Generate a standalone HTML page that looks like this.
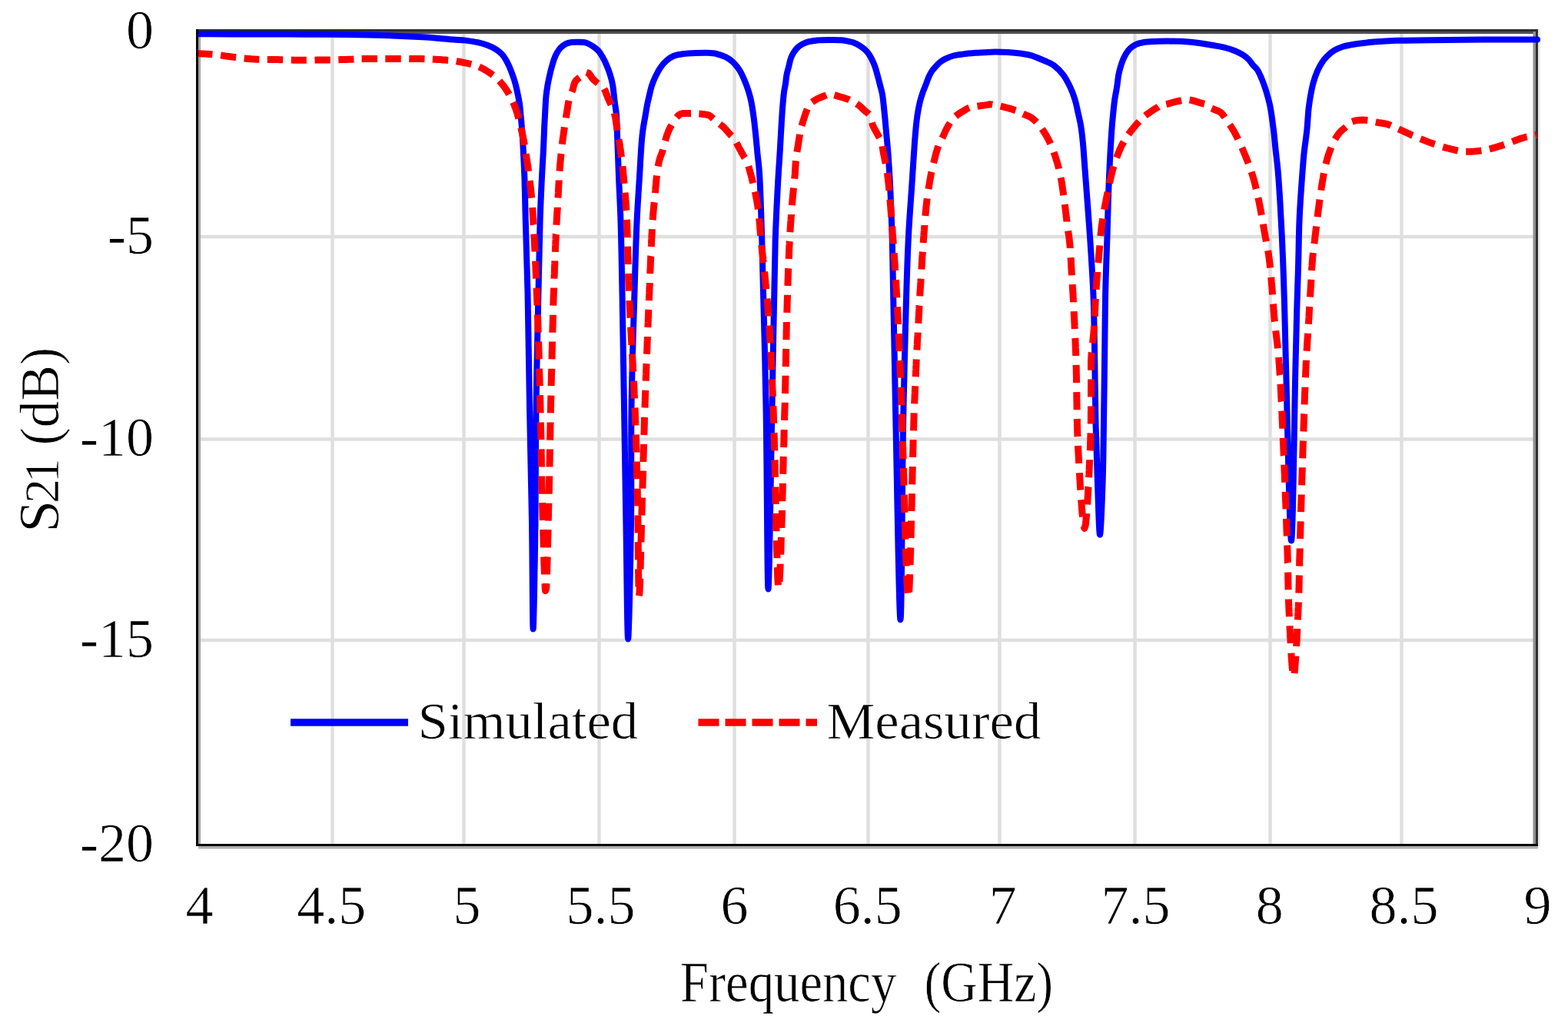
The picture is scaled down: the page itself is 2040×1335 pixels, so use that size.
<!DOCTYPE html>
<html><head><meta charset="utf-8"><title>S21 vs Frequency</title>
<style>
html,body{margin:0;padding:0;background:#fff;}
body{width:2040px;height:1335px;overflow:hidden;}
svg{display:block;filter:blur(0.7px);}
text{font-family:"Liberation Serif","Times New Roman",serif;fill:#000;stroke:#fff;stroke-width:0.7px;}
.g{stroke:#dfdfdf;stroke-width:4.5;}
</style></head><body>
<svg width="2040" height="1335" viewBox="0 0 2040 1335">
<rect x="0" y="0" width="2040" height="1335" fill="#fff"/>
<g><line x1="432.5" y1="40" x2="432.5" y2="1099" class="g"/><line x1="603.5" y1="40" x2="603.5" y2="1099" class="g"/><line x1="779.5" y1="40" x2="779.5" y2="1099" class="g"/><line x1="955.5" y1="40" x2="955.5" y2="1099" class="g"/><line x1="1129.5" y1="40" x2="1129.5" y2="1099" class="g"/><line x1="1300.5" y1="40" x2="1300.5" y2="1099" class="g"/><line x1="1476.5" y1="40" x2="1476.5" y2="1099" class="g"/><line x1="1652.5" y1="40" x2="1652.5" y2="1099" class="g"/><line x1="1823.5" y1="40" x2="1823.5" y2="1099" class="g"/><line x1="257" y1="308.0" x2="1999" y2="308.0" class="g"/><line x1="257" y1="571.5" x2="1999" y2="571.5" class="g"/><line x1="257" y1="833.0" x2="1999" y2="833.0" class="g"/></g>
<!-- plot border (top/right, under series) -->
<rect x="258" y="41" width="1740" height="3" fill="#505050"/>
<rect x="1994.5" y="41" width="3.5" height="1057" fill="#909090"/>
<rect x="255" y="38" width="1746" height="3" fill="#2d2d2d"/>
<rect x="1998" y="38" width="3" height="1063" fill="#303030"/>
<rect x="2001" y="38" width="3" height="1063" fill="#ececec"/>
<rect x="258" y="41" width="3" height="1057" fill="#a6a6a6"/>
<rect x="258" y="1101" width="1743" height="3.5" fill="#b0b0b0"/>
<defs><clipPath id="pc"><rect x="255" y="0" width="1749" height="1335"/></clipPath></defs>
<!-- curves -->
<g clip-path="url(#pc)">
<path d="M256.0,44.3 C270.7,44.3 284.9,44.4 300.0,44.4 C316.1,44.4 333.3,44.5 350.0,44.5 C366.7,44.6 383.3,44.6 400.0,44.7 C416.7,44.8 433.3,44.9 450.0,45.1 C466.7,45.3 483.3,45.5 500.0,46.0 C516.7,46.5 534.3,47.3 550.0,48.3 C564.1,49.2 579.7,50.7 590.0,51.5 C596.4,52.0 600.5,52.0 605.7,52.6 C611.0,53.2 616.5,54.1 621.5,55.2 C626.1,56.2 630.5,57.3 634.6,58.9 C638.4,60.3 642.0,62.1 645.1,64.1 C648.0,66.0 650.7,68.0 652.9,70.4 C655.0,72.6 656.6,75.2 658.2,77.8 C659.8,80.4 661.1,83.2 662.4,86.1 C663.7,89.0 664.9,92.2 666.0,95.1 C667.0,97.8 667.9,100.4 668.7,102.9 C669.5,105.3 670.1,107.3 670.8,110.0 C671.7,113.5 672.7,118.0 673.5,122.0 C674.4,126.1 675.2,129.8 675.9,134.3 C676.7,139.9 677.2,146.5 677.8,153.0 C678.4,160.0 679.1,167.4 679.6,175.0 C680.2,183.1 680.6,191.4 681.0,200.0 C681.5,209.2 681.9,217.4 682.3,228.6 C682.9,244.7 683.2,265.7 683.8,287.5 C684.5,314.9 685.7,345.5 686.5,380.0 C687.5,424.0 688.1,480.0 689.0,530.0 C689.9,580.0 691.2,631.0 692.0,680.0 C692.7,727.1 692.9,818.5 693.6,818.5 C694.4,818.5 695.9,727.1 696.5,680.0 C697.2,631.0 696.8,580.0 697.5,530.0 C698.2,480.0 699.6,424.0 700.5,380.0 C701.2,345.5 701.7,314.9 702.6,287.5 C703.3,265.7 704.2,246.2 705.1,228.6 C705.8,214.4 706.7,201.5 707.2,190.0 C707.6,180.8 707.9,172.3 708.2,165.0 C708.5,159.4 708.7,155.6 709.0,150.0 C709.4,142.7 709.8,132.3 710.5,125.0 C711.1,119.4 711.8,114.7 712.6,110.0 C713.4,105.7 714.3,101.6 715.2,97.7 C716.0,94.1 716.8,90.7 717.8,87.2 C718.8,83.7 719.8,79.9 721.0,76.7 C722.1,73.8 723.2,71.3 724.6,68.8 C726.0,66.4 727.5,63.9 729.4,62.0 C731.2,60.1 733.5,58.4 735.7,57.3 C737.7,56.2 739.6,55.6 742.0,55.2 C745.0,54.6 748.9,54.6 752.4,54.7 C755.9,54.8 759.7,54.7 762.9,55.7 C765.8,56.6 768.2,58.2 770.8,59.9 C773.5,61.7 776.5,63.8 778.7,66.2 C780.8,68.5 782.2,71.2 783.9,74.1 C785.7,77.3 787.5,80.9 789.1,84.6 C790.9,88.7 792.6,93.4 793.9,97.7 C795.2,101.8 796.1,105.2 797.0,110.0 C798.2,116.5 798.9,126.3 799.8,133.1 C800.5,138.6 801.3,142.1 801.8,147.8 C802.5,155.5 802.6,164.4 803.0,175.0 C803.6,190.1 804.3,211.5 805.0,230.0 C805.8,249.0 806.8,266.1 807.5,287.5 C808.4,314.7 808.8,345.5 809.5,380.0 C810.3,424.0 811.2,480.0 812.0,530.0 C812.8,580.0 813.6,629.9 814.4,680.0 C815.3,730.4 816.0,831.5 817.1,831.5 C818.2,831.5 820.3,730.4 821.0,680.0 C821.7,629.9 820.8,580.0 821.5,530.0 C822.2,480.0 824.2,424.0 825.5,380.0 C826.5,345.5 827.3,314.7 828.6,287.5 C829.6,266.1 830.8,249.0 832.0,230.0 C833.2,211.5 834.0,189.7 835.7,175.0 C836.8,165.0 838.5,157.1 839.7,150.0 C840.6,144.7 841.2,140.5 842.1,136.0 C842.9,131.8 843.9,128.0 844.8,124.0 C845.8,120.0 846.5,116.0 847.8,112.0 C849.1,108.0 850.7,103.9 852.6,100.0 C854.5,95.9 856.7,91.6 859.2,88.0 C861.5,84.6 864.1,81.5 867.0,79.0 C869.7,76.6 872.6,74.4 876.0,73.0 C879.6,71.5 883.6,71.0 888.0,70.3 C893.1,69.5 899.5,69.2 905.0,69.0 C910.2,68.8 915.3,68.6 920.0,68.8 C924.2,69.0 928.1,69.1 932.0,70.0 C936.1,70.9 940.4,72.4 944.0,74.2 C947.3,75.9 950.4,78.0 953.0,80.2 C955.3,82.2 957.1,84.5 958.9,86.8 C960.7,89.1 962.2,91.3 963.7,93.9 C965.3,96.7 966.6,99.9 967.9,102.9 C969.2,105.9 970.4,108.9 971.5,111.9 C972.6,114.9 973.6,117.7 974.5,120.9 C975.6,124.6 976.6,128.4 977.5,132.9 C978.6,138.5 979.6,145.3 980.5,152.0 C981.5,159.3 982.3,167.2 983.1,175.0 C984.0,183.2 984.7,191.7 985.5,200.0 C986.3,208.3 987.3,214.1 988.0,225.0 C989.4,245.4 990.2,277.2 991.3,313.0 C993.0,369.3 995.1,456.1 996.5,530.0 C997.9,607.1 998.2,766.5 999.5,766.5 C1000.8,766.5 1002.9,607.1 1004.5,530.0 C1006.0,456.1 1007.0,366.1 1008.7,313.0 C1009.7,282.2 1010.9,260.7 1012.0,240.0 C1012.8,224.7 1013.7,212.9 1014.5,200.0 C1015.2,187.9 1015.8,176.2 1016.5,165.0 C1017.1,154.6 1017.8,143.6 1018.5,135.0 C1019.1,128.5 1019.6,122.6 1020.3,118.0 C1020.8,114.8 1021.3,113.0 1021.8,110.0 C1022.4,106.3 1022.7,101.6 1023.4,97.7 C1024.1,94.0 1025.1,90.7 1026.0,87.2 C1026.9,83.7 1027.5,79.9 1028.6,76.7 C1029.6,73.8 1030.8,71.3 1032.3,68.8 C1033.8,66.4 1035.5,63.9 1037.5,62.0 C1039.5,60.1 1041.9,58.6 1044.3,57.3 C1046.8,56.0 1049.3,55.0 1052.2,54.2 C1055.4,53.3 1058.8,53.0 1062.7,52.6 C1067.4,52.2 1073.2,52.1 1078.4,52.1 C1083.6,52.1 1090.0,52.0 1094.1,52.3 C1096.8,52.5 1098.3,52.7 1100.7,53.1 C1103.8,53.7 1108.0,54.5 1111.2,55.7 C1114.1,56.8 1116.6,58.3 1119.1,59.9 C1121.5,61.5 1123.9,63.2 1125.9,65.2 C1127.9,67.1 1129.6,69.2 1131.1,71.5 C1132.7,73.9 1134.1,76.7 1135.3,79.3 C1136.5,81.9 1137.5,84.4 1138.5,87.2 C1139.6,90.4 1140.6,94.1 1141.6,97.7 C1142.7,101.6 1143.8,105.9 1144.8,110.0 C1145.8,114.0 1146.9,117.3 1147.8,122.0 C1149.0,128.4 1149.6,136.9 1150.5,145.0 C1151.5,154.1 1152.3,164.6 1153.2,174.0 C1154.0,182.9 1154.8,190.4 1155.5,200.0 C1156.4,211.9 1157.2,224.7 1158.0,240.0 C1159.0,260.7 1159.9,282.2 1160.8,313.0 C1162.3,366.1 1163.4,453.3 1165.0,530.0 C1166.9,616.6 1169.7,806.5 1171.5,806.5 C1173.2,806.5 1173.6,616.6 1175.5,530.0 C1177.2,453.3 1179.2,366.1 1181.7,313.0 C1183.1,282.2 1185.1,260.7 1186.4,240.0 C1187.4,224.7 1188.2,211.9 1189.0,200.0 C1189.7,190.4 1190.1,182.5 1190.9,174.0 C1191.6,165.8 1192.4,157.4 1193.5,150.0 C1194.5,143.5 1195.6,137.5 1197.0,132.0 C1198.2,127.3 1199.6,122.9 1201.0,119.0 C1202.2,115.7 1203.4,113.1 1204.6,110.0 C1205.8,106.8 1206.9,103.3 1208.3,100.3 C1209.6,97.5 1210.9,94.8 1212.5,92.4 C1214.1,90.1 1216.0,88.1 1217.8,86.1 C1219.5,84.2 1221.1,82.4 1223.0,80.9 C1225.0,79.3 1227.2,78.0 1229.8,76.7 C1232.9,75.2 1236.5,73.5 1240.3,72.5 C1244.4,71.4 1248.8,71.0 1253.4,70.4 C1258.4,69.7 1264.3,69.2 1269.1,68.8 C1273.1,68.5 1276.1,68.5 1280.0,68.3 C1284.6,68.1 1289.9,67.6 1295.0,67.6 C1300.2,67.6 1305.3,67.7 1311.0,68.1 C1317.5,68.5 1326.2,69.3 1332.0,70.2 C1336.1,70.8 1339.0,71.3 1342.4,72.3 C1345.9,73.4 1349.4,75.1 1352.9,76.5 C1356.4,78.0 1360.2,79.4 1363.4,81.0 C1366.3,82.4 1368.8,83.4 1371.6,85.5 C1375.3,88.3 1379.8,92.9 1383.0,97.0 C1385.9,100.8 1388.1,104.9 1390.2,109.0 C1392.3,112.9 1394.0,117.0 1395.6,121.0 C1397.1,125.0 1398.4,129.0 1399.5,133.0 C1400.6,137.0 1401.3,141.0 1402.2,145.0 C1403.1,149.0 1404.2,153.4 1404.9,157.0 C1405.5,159.9 1405.9,161.7 1406.4,165.0 C1407.2,170.2 1408.1,177.4 1408.8,185.0 C1409.8,195.0 1410.4,205.7 1411.5,220.0 C1413.2,242.6 1416.1,279.9 1418.0,307.7 C1419.7,333.0 1421.3,356.1 1422.3,380.0 C1423.3,403.5 1423.5,424.6 1424.0,450.0 C1424.6,480.4 1424.8,518.5 1425.5,550.0 C1426.2,578.2 1427.0,604.6 1428.0,630.0 C1428.9,653.0 1429.9,695.8 1431.0,695.8 C1432.1,695.8 1433.7,653.0 1434.5,630.0 C1435.4,604.6 1435.6,578.2 1436.0,550.0 C1436.5,518.5 1436.9,480.4 1437.3,450.0 C1437.6,424.6 1437.7,403.5 1438.2,380.0 C1438.7,356.1 1439.7,332.2 1440.5,307.7 C1441.3,282.3 1441.9,254.2 1443.0,230.0 C1443.9,208.7 1445.2,185.7 1446.3,170.0 C1447.0,159.9 1447.7,152.5 1448.5,145.0 C1449.1,138.8 1449.7,133.0 1450.5,128.0 C1451.1,123.9 1451.9,120.3 1452.5,117.0 C1452.9,114.4 1453.2,112.7 1453.6,110.0 C1454.1,106.5 1454.5,101.6 1455.2,97.7 C1455.9,94.0 1456.8,90.7 1457.8,87.2 C1458.9,83.7 1460.1,79.9 1461.5,76.7 C1462.8,73.8 1464.1,71.2 1465.7,68.8 C1467.2,66.5 1468.9,64.3 1470.9,62.5 C1472.9,60.7 1475.2,59.0 1477.8,57.8 C1480.6,56.5 1483.6,55.8 1487.2,55.2 C1491.7,54.4 1497.7,54.2 1502.9,53.9 C1508.2,53.6 1513.0,53.6 1518.7,53.6 C1525.3,53.6 1533.0,53.6 1540.0,54.0 C1546.8,54.4 1553.3,55.1 1560.0,56.0 C1566.7,56.9 1573.7,58.1 1580.0,59.3 C1585.6,60.3 1591.0,61.2 1595.7,62.5 C1599.6,63.5 1602.7,64.6 1606.2,66.0 C1609.8,67.5 1613.5,69.2 1616.7,71.2 C1619.6,73.1 1622.4,75.2 1624.6,77.5 C1626.7,79.6 1628.0,82.1 1629.8,84.3 C1631.6,86.5 1633.8,88.0 1635.6,90.5 C1637.8,93.6 1639.6,98.1 1641.3,102.0 C1643.0,105.9 1644.4,110.0 1645.8,114.0 C1647.1,118.0 1648.3,122.0 1649.4,126.0 C1650.5,130.0 1651.6,134.0 1652.4,138.0 C1653.2,142.0 1653.8,146.0 1654.4,150.0 C1655.0,154.0 1655.5,158.2 1656.0,162.0 C1656.5,165.5 1656.8,168.0 1657.3,172.0 C1658.0,178.1 1658.8,187.2 1659.6,195.0 C1660.5,203.2 1661.5,210.3 1662.4,220.0 C1663.6,233.4 1664.7,250.7 1665.7,268.0 C1666.9,288.5 1668.1,313.3 1669.0,335.0 C1669.8,355.5 1670.4,373.6 1671.0,395.0 C1671.7,419.8 1672.1,441.5 1673.0,475.0 C1674.6,531.6 1677.9,703.6 1680.0,703.6 C1682.1,703.6 1684.1,531.6 1685.5,475.0 C1686.3,441.5 1686.8,419.2 1687.5,395.0 C1688.1,375.0 1688.7,358.3 1689.2,340.0 C1689.7,321.7 1689.8,302.9 1690.6,285.0 C1691.3,267.9 1692.6,250.2 1693.7,235.0 C1694.6,222.3 1695.4,211.3 1696.5,200.0 C1697.6,189.4 1699.3,179.5 1700.3,169.4 C1701.3,159.5 1701.7,148.5 1702.7,140.0 C1703.5,133.4 1704.4,128.0 1705.4,122.4 C1706.4,117.2 1707.3,112.4 1708.7,107.4 C1710.1,102.4 1712.0,97.0 1714.0,92.4 C1715.8,88.3 1717.8,84.5 1720.0,81.2 C1721.9,78.4 1723.7,76.1 1726.0,73.7 C1728.6,71.1 1731.7,68.3 1735.0,66.2 C1738.4,64.0 1742.4,62.3 1746.2,61.0 C1749.9,59.7 1753.5,59.1 1757.4,58.4 C1761.5,57.6 1765.4,57.1 1770.0,56.5 C1775.3,55.8 1780.9,55.2 1787.5,54.6 C1796.0,53.9 1806.2,53.2 1816.9,52.8 C1829.9,52.3 1843.9,52.5 1860.0,52.3 C1880.5,52.1 1906.7,51.6 1930.0,51.5 C1953.3,51.4 1976.7,51.5 2000.0,51.5" fill="none" stroke="#0000ff" stroke-width="8" stroke-linejoin="round" stroke-linecap="round"/>
<path d="M256.0,69.5L259.4,69.7L262.8,69.9L266.3,70.1L269.7,70.2L273.1,70.4L276.4,70.7M287.1,71.9L290.2,72.4L293.4,72.9L296.4,73.3L299.7,73.7L302.8,74.1L306.1,74.5L307.1,74.6M317.6,75.9L320.7,76.2L323.7,76.5L327.1,76.8L330.5,77.0L333.9,77.2L337.3,77.3M347.8,77.4L351.2,77.4L354.5,77.4L358.0,77.5L361.3,77.6L364.7,77.7L368.1,77.8M378.8,78.1L382.3,78.2L385.7,78.2L389.0,78.3L392.5,78.3L395.9,78.3L398.8,78.3M409.5,78.2L412.8,78.1L416.2,78.1L419.5,78.0L422.9,78.0L426.3,77.9L429.7,77.9M440.3,77.7L443.7,77.6L447.0,77.5L450.4,77.4L453.7,77.3L457.1,77.2L460.4,77.0M470.6,76.6L474.0,76.6L477.4,76.5L480.8,76.4L484.2,76.4L487.6,76.4L491.0,76.4M501.3,76.5L504.7,76.5L508.1,76.5L511.5,76.5L514.9,76.5L518.3,76.5L521.7,76.5M532.2,76.4L535.6,76.5L539.0,76.5L542.4,76.6L545.7,76.6L549.1,76.6L552.5,76.7M562.8,77.0L566.1,77.2L569.5,77.4L572.9,77.6L576.3,77.9L579.7,78.1L583.1,78.4M593.7,79.6L597.0,80.2L600.3,80.8L603.7,81.5L607.0,82.1L610.4,82.9L613.2,83.6M623.3,87.0L626.4,88.4L629.4,90.0L632.3,91.7L635.2,93.5L638.1,95.4L640.9,97.5L641.3,97.8M649.7,105.3L651.9,107.8L654.0,110.3L656.1,113.0L658.0,115.8L659.9,118.6L661.7,121.6L662.4,122.9M667.6,133.1L668.9,136.1L670.1,139.3L671.3,142.5L672.4,145.8L673.2,148.7L674.1,151.6L674.8,154.5M677.7,166.1L678.5,169.3L679.2,172.3L679.8,175.2L680.5,178.6L681.2,182.0L681.8,185.3L682.3,188.7M684.2,200.2L684.7,203.6L685.3,207.0L685.8,210.3L686.3,213.7L686.8,217.1L687.3,220.5L687.6,222.9M689.2,235.0L689.6,238.4L690.0,241.7L690.4,244.8L690.7,248.0L691.0,251.1L691.3,254.3L691.7,257.6M692.7,270.0L692.9,273.3L693.1,276.3L693.3,279.4L693.5,282.7L693.8,286.1L693.9,289.1L694.1,292.2L694.2,292.7M694.8,304.4L695.0,307.9L695.2,311.4L695.3,314.4L695.5,317.5L695.6,320.6L695.8,323.7L696.0,326.9L696.0,327.4M696.6,339.7L696.7,343.0L696.9,346.2L697.0,349.5L697.1,352.8L697.3,356.1L697.4,359.3L697.6,362.6M698.1,374.6L698.2,377.8L698.3,380.9L698.5,384.1L698.6,387.4L698.7,390.7L698.9,394.0L699.0,397.3M699.4,409.5L699.5,412.9L699.7,416.4L699.8,419.9L699.9,422.9L700.0,425.9L700.1,429.0L700.2,432.0L700.2,432.5M700.6,444.3L700.7,447.3L700.8,450.4L700.9,453.5L701.0,456.6L701.1,459.7L701.1,462.7L701.2,465.8L701.3,467.4M701.6,479.6L701.7,482.7L701.8,485.8L701.9,488.8L702.0,491.8L702.1,494.9L702.1,497.9L702.2,500.9L702.3,502.4M702.6,514.2L702.7,517.6L702.8,521.0L702.9,524.3L702.9,527.6L703.0,531.0L703.1,534.2L703.2,537.3M703.5,549.6L703.5,552.6L703.6,555.7L703.6,558.7L703.7,561.7L703.8,565.2L703.8,568.7L703.9,572.1M704.1,584.4L704.2,587.9L704.2,591.3L704.3,594.7L704.4,598.1L704.4,601.5L704.5,605.0L704.5,607.4M704.8,619.6L704.8,623.0L704.9,626.4L705.0,629.8L705.1,633.2L705.1,636.7L705.2,640.1L705.3,642.6M705.6,654.1L705.7,657.3L705.8,660.7L705.9,664.1L706.0,667.7L706.1,670.7L706.2,673.8L706.3,677.0M706.6,689.2L706.7,692.5L706.8,695.8L706.9,699.2L707.0,702.5L707.1,705.8L707.2,709.1L707.3,712.3M707.6,724.5L707.7,727.6L707.8,730.6L707.9,734.2L708.1,737.6L708.2,741.0L708.3,744.2L708.4,747.3M709.0,759.4L709.1,762.5L709.3,765.8L709.6,768.8L710.6,765.8L710.8,762.5L711.0,759.3M711.5,747.3L711.6,744.2L711.7,741.0L711.8,737.6L711.9,734.2L712.0,730.6L712.1,727.6L712.2,724.5M712.5,712.3L712.6,709.1L712.6,705.8L712.7,702.5L712.8,699.1L712.9,695.8L713.0,692.5L713.0,689.2M713.3,677.6L713.4,674.4L713.5,671.3L713.5,668.3L713.6,664.7L713.7,661.2L713.8,657.9L713.9,654.6M714.2,642.6L714.3,639.1L714.4,635.7L714.4,632.3L714.5,628.8L714.6,625.4L714.7,622.0L714.7,619.6M715.0,607.4L715.0,604.0L715.1,600.6L715.2,597.2L715.2,593.7L715.3,590.3L715.4,586.9L715.4,584.5M715.6,572.6L715.7,569.2L715.8,565.7L715.8,562.2L715.9,559.2L715.9,556.2L716.0,553.1L716.1,550.1L716.1,549.6M716.3,537.3L716.4,534.2L716.5,531.0L716.6,527.6L716.6,524.3L716.7,521.0L716.8,517.6L716.9,514.6M717.1,502.2L717.2,499.2L717.3,496.1L717.4,493.1L717.4,490.0L717.5,486.9L717.6,483.9L717.7,480.8L717.7,479.7M718.0,467.3L718.1,464.2L718.1,461.1L718.2,457.9L718.3,454.8L718.4,451.7L718.4,448.6L718.5,445.5L718.5,444.5M718.9,432.7L718.9,429.6L719.0,426.6L719.1,423.6L719.2,420.6L719.3,417.1L719.4,413.6L719.5,410.2L719.5,409.7M719.8,397.7L719.9,394.4L720.0,391.2L720.1,388.0L720.2,384.9L720.3,381.8L720.5,378.3L720.6,375.0L720.6,374.4M721.0,362.7L721.1,359.3L721.3,356.0L721.4,352.6L721.5,349.3L721.6,346.0L721.8,342.7L721.9,339.4M722.4,327.8L722.5,324.7L722.6,321.6L722.8,318.2L722.9,314.8L723.1,311.4L723.2,308.2L723.3,305.0L723.4,304.6M723.9,292.8L724.1,289.5L724.3,286.2L724.5,282.8L724.6,279.8L724.9,276.5L725.1,273.5L725.3,270.5L725.3,269.7M726.0,257.5L726.2,254.1L726.4,250.7L726.5,247.7L726.7,244.6L726.8,241.6L727.0,238.6L727.2,235.5L727.2,234.5M728.0,222.7L728.3,219.2L728.6,215.7L728.9,212.2L729.2,208.8L729.5,205.3L729.8,201.9L730.0,200.0M731.4,187.8L731.7,184.8L732.1,181.8L732.6,178.3L733.1,174.9L733.5,171.6L734.0,168.4L734.4,165.3M736.3,153.4L736.8,150.2L737.3,146.9L737.9,143.6L738.4,140.6L738.8,137.6L739.3,134.6L740.0,131.3L740.1,130.8M744.0,119.6L745.2,116.6L746.0,113.3L746.8,110.0L748.0,106.9L749.8,104.4L752.2,102.2L754.1,100.9M762.9,94.1L765.9,95.2L768.0,98.0L769.8,100.8L772.0,103.5L774.4,105.6L776.8,107.6L777.8,108.4M785.9,115.6L787.4,118.3L788.6,121.3L789.8,124.6L790.9,127.4L792.2,130.3L793.6,133.3L795.0,136.3M799.3,147.2L800.0,150.3L800.7,153.6L801.2,156.8L801.7,160.2L802.2,163.7L802.6,166.7L803.1,169.8M805.0,181.4L805.6,184.8L806.2,188.2L806.6,191.2L807.1,194.2L807.5,197.1L808.0,200.6L808.5,204.0L808.6,204.5M809.9,216.1L810.2,219.4L810.6,222.8L810.9,226.2L811.2,229.6L811.5,233.0L811.8,236.4L812.0,238.9M813.1,250.7L813.4,253.9L813.7,257.1L814.0,260.5L814.2,263.5L814.4,266.6L814.6,269.9L814.8,273.5L814.9,274.1M815.4,285.7L815.6,289.1L815.7,292.1L815.8,295.3L815.9,298.5L816.0,301.8L816.1,305.1L816.2,308.5L816.2,309.0M816.5,320.6L816.6,323.7L816.7,326.8L816.8,330.0L816.9,333.2L817.0,336.4L817.1,339.6L817.2,342.8L817.2,343.9M817.5,355.9L817.6,359.1L817.7,362.4L817.8,365.7L818.0,369.0L818.1,372.2L818.2,375.5L818.3,378.7M818.8,390.9L819.0,394.2L819.2,397.5L819.3,400.9L819.5,404.3L819.7,407.7L819.8,411.1L820.0,413.6M820.6,425.5L820.7,428.5L820.9,431.6L821.1,434.6L821.2,437.6L821.4,440.7L821.6,443.8L821.8,446.8L821.9,448.9M822.5,460.6L822.7,463.7L822.9,466.8L823.0,469.9L823.2,472.9L823.4,476.0L823.5,479.1L823.7,482.1L823.8,483.6M824.4,495.8L824.6,498.8L824.7,501.8L824.9,505.3L825.1,508.7L825.2,512.2L825.4,515.6L825.5,518.5M826.0,530.5L826.1,533.6L826.3,536.7L826.4,539.8L826.5,542.9L826.6,545.9L826.7,549.0L826.8,552.0L826.9,553.5M827.3,565.5L827.4,569.0L827.5,572.4L827.6,575.9L827.7,579.3L827.8,582.8L827.9,586.2L828.0,588.6M828.3,600.3L828.4,603.8L828.5,607.2L828.6,610.6L828.7,614.0L828.7,617.4L828.8,620.8L828.9,623.3M829.2,635.6L829.3,639.0L829.3,642.5L829.4,646.0L829.5,649.0L829.6,652.5L829.6,655.6L829.7,658.3M829.9,670.5L829.9,673.6L829.9,676.7L830.0,679.8L830.0,683.0L830.1,686.2L830.1,689.5L830.1,692.8L830.1,693.4M830.3,705.3L830.3,708.6L830.3,711.9L830.3,715.2L830.4,718.4L830.4,721.6L830.4,724.8L830.5,727.9L830.5,728.6M830.6,740.5L830.6,743.9L830.7,747.2L830.7,750.3L830.8,753.3L830.8,756.6L830.9,759.7L830.9,763.0L830.9,763.4M831.4,775.2L831.9,772.2L832.1,769.1L832.2,765.9L832.3,762.6L832.5,759.3L832.6,756.2L832.7,752.8M833.1,740.5L833.2,737.0L833.3,733.5L833.3,730.4L833.4,727.3L833.5,724.2L833.6,721.0L833.7,717.8M834.0,705.3L834.1,702.0L834.2,698.7L834.3,695.4L834.4,692.1L834.4,688.9L834.5,685.6L834.6,683.0M834.9,670.5L835.0,667.5L835.1,664.0L835.2,660.5L835.3,657.2L835.4,654.0L835.5,651.0L835.6,647.5M835.9,635.6L836.0,632.1L836.1,628.7L836.2,625.2L836.3,621.8L836.4,618.4L836.5,615.0L836.6,612.5M836.9,600.8L837.0,597.4L837.1,594.0L837.2,590.6L837.3,587.2L837.4,583.7L837.5,580.3L837.5,577.9M837.9,566.0L838.0,562.5L838.1,559.0L838.2,556.0L838.3,553.0L838.4,550.0L838.4,547.0L838.5,543.9L838.6,542.9M839.0,530.5L839.1,527.2L839.2,523.8L839.3,520.4L839.4,517.0L839.6,513.6L839.7,510.2L839.8,507.7M840.2,495.6L840.3,492.6L840.4,489.5L840.6,486.5L840.7,483.4L840.8,480.3L840.9,477.2L841.0,474.1L841.1,473.1M841.5,460.7L841.7,457.6L841.8,454.5L841.9,451.4L842.0,448.3L842.1,445.3L842.3,442.2L842.4,439.1L842.4,438.1M842.9,426.0L843.0,423.0L843.2,419.5L843.3,416.0L843.5,412.6L843.6,409.2L843.7,405.8L843.9,402.9M844.4,391.2L844.5,388.0L844.6,384.8L844.8,381.4L844.9,378.1L845.0,374.8L845.2,371.5L845.3,368.2M845.8,356.1L845.9,352.9L846.1,349.6L846.2,346.4L846.3,343.1L846.5,339.9L846.6,336.8L846.7,333.6L846.8,333.1M847.3,320.9L847.5,317.4L847.6,314.0L847.8,310.7L847.9,307.4L848.1,304.3L848.3,301.1L848.4,298.1M849.1,286.2L849.4,283.1L849.6,279.7L849.9,276.5L850.2,273.5L850.5,270.2L850.8,267.0L851.1,263.9L851.2,263.1M852.4,251.1L852.7,248.1L852.9,245.0L853.2,241.9L853.5,238.8L853.8,235.8L854.0,232.8L854.4,229.4L854.5,228.5M856.2,216.4L856.8,213.2L857.4,210.1L858.2,207.2L859.2,204.1L860.3,201.3L861.5,198.2L862.5,195.1L862.6,194.7M865.5,183.2L866.3,180.3L867.3,177.1L868.4,174.0L869.6,170.9L870.9,167.9L872.3,165.1L873.7,162.6M880.2,152.8L882.4,150.3L885.3,148.4L888.4,147.6L891.7,147.5L894.9,147.5L898.1,147.5L899.0,147.5M909.4,148.1L912.5,148.3L915.8,148.7L919.1,149.1L922.1,149.8L924.7,151.5L927.0,153.6L928.0,154.5M936.5,161.5L939.1,163.5L941.6,165.7L943.8,168.0L945.9,170.4L948.0,172.8L950.2,175.2L951.8,176.8M958.2,185.8L959.7,188.9L961.2,191.8L962.8,194.7L964.4,197.5L965.9,200.3L967.5,203.1L969.0,205.5M973.8,216.2L974.7,219.3L975.5,222.3L976.4,225.4L977.2,228.5L978.0,231.4L978.7,234.5L979.6,237.9L979.7,238.3M982.3,249.5L983.0,252.6L983.6,255.8L984.2,258.9L984.8,262.0L985.3,265.0L985.9,268.4L986.3,271.6L986.4,272.1M987.7,284.1L988.0,287.4L988.3,290.7L988.6,294.1L988.8,297.5L989.1,300.6L989.3,303.7L989.6,306.9M990.8,318.9L991.1,321.9L991.4,325.0L991.8,328.2L992.1,331.4L992.5,334.7L992.8,338.0L993.2,341.3L993.3,341.8M994.5,353.7L994.9,356.7L995.2,359.7L995.5,362.8L995.8,365.9L996.1,369.0L996.5,372.1L996.8,375.3L996.9,376.3M998.0,388.5L998.3,391.7L998.6,394.8L998.9,398.0L999.1,401.2L999.4,404.4L999.6,407.8L999.9,411.1L999.9,411.5M1000.7,423.5L1001.0,426.7L1001.2,429.9L1001.4,433.2L1001.6,436.4L1001.8,439.7L1002.0,443.0L1002.1,446.3M1002.8,458.1L1003.0,461.5L1003.1,464.9L1003.3,468.3L1003.5,471.8L1003.6,475.2L1003.8,478.7L1003.9,481.2M1004.5,493.5L1004.6,496.6L1004.7,499.7L1004.9,502.9L1005.0,506.1L1005.1,509.4L1005.3,512.6L1005.4,515.9M1005.9,528.3L1006.1,531.7L1006.2,534.8L1006.3,538.0L1006.4,541.3L1006.5,544.8L1006.6,547.8L1006.7,550.9M1007.1,563.0L1007.2,566.5L1007.3,570.0L1007.4,573.5L1007.4,576.5L1007.5,579.6L1007.6,582.7L1007.7,585.8L1007.7,586.4M1008.0,598.5L1008.1,601.7L1008.1,605.0L1008.2,608.3L1008.3,611.5L1008.3,614.8L1008.4,618.2L1008.5,620.8M1008.8,633.5L1008.8,636.8L1008.9,640.2L1009.0,643.5L1009.0,646.8L1009.1,650.2L1009.2,653.5L1009.2,656.1M1009.5,667.9L1009.6,671.1L1009.6,674.3L1009.7,677.5L1009.8,680.7L1009.8,683.8L1009.9,686.9L1010.0,690.0L1010.0,691.2M1010.3,703.1L1010.4,706.5L1010.5,709.9L1010.5,713.2L1010.6,716.4L1010.7,719.6L1010.8,722.7L1010.9,725.7L1010.9,726.2M1011.3,738.1L1011.4,741.4L1011.5,744.6L1011.6,747.8L1011.8,750.9L1011.9,753.9L1012.1,757.1L1012.3,760.2L1012.4,761.3M1014.0,756.9L1014.2,753.6L1014.4,750.6L1014.6,747.5L1014.7,744.2L1014.9,741.0L1015.0,737.7L1015.2,734.6L1015.2,733.7M1015.7,721.7L1015.8,718.6L1015.9,715.4L1016.0,712.1L1016.1,708.8L1016.2,705.4L1016.3,701.9L1016.4,699.0M1016.8,686.9L1016.9,683.8L1017.0,680.7L1017.1,677.5L1017.2,674.4L1017.3,671.1L1017.4,667.9L1017.5,664.7L1017.5,664.0M1017.8,652.2L1017.9,648.8L1018.0,645.5L1018.1,642.2L1018.2,638.8L1018.2,635.5L1018.3,632.2L1018.4,628.8M1018.7,616.8L1018.8,613.5L1018.9,610.2L1019.0,607.0L1019.1,603.7L1019.2,600.4L1019.2,597.2L1019.3,594.0M1019.6,582.1L1019.7,579.0L1019.8,575.9L1019.9,572.9L1020.0,569.4L1020.0,565.9L1020.1,562.4L1020.2,559.1M1020.5,546.8L1020.6,543.8L1020.7,540.4L1020.8,537.1L1020.9,533.9L1021.0,530.8L1021.1,527.7L1021.2,524.3L1021.2,523.7M1021.5,512.1L1021.6,508.8L1021.6,505.6L1021.7,502.4L1021.8,499.2L1021.8,496.1L1021.9,493.0L1022.0,489.9L1022.0,488.8M1022.2,477.2L1022.3,473.7L1022.4,470.3L1022.4,466.9L1022.5,463.5L1022.6,460.1L1022.6,456.7L1022.7,453.9M1022.9,442.1L1023.0,438.8L1023.1,435.5L1023.1,432.3L1023.2,429.0L1023.3,425.8L1023.3,422.6L1023.4,419.3L1023.4,418.9M1023.8,406.9L1023.9,403.9L1024.0,400.7L1024.1,397.5L1024.2,394.3L1024.3,391.2L1024.4,388.0L1024.5,384.9L1024.5,383.8M1024.9,371.8L1025.0,368.7L1025.1,365.7L1025.2,362.6L1025.3,359.6L1025.4,356.5L1025.5,353.5L1025.6,350.1L1025.7,349.1M1026.2,336.9L1026.3,333.6L1026.5,330.4L1026.6,327.1L1026.7,324.0L1026.9,320.8L1027.1,317.7L1027.2,314.7L1027.3,313.9M1027.9,302.1L1028.1,299.0L1028.3,295.8L1028.5,292.8L1028.7,289.8L1029.0,286.3L1029.2,282.9L1029.5,279.5L1029.5,279.1M1030.4,267.1L1030.7,264.0L1030.9,260.9L1031.2,257.9L1031.5,254.7L1031.8,251.6L1032.1,248.5L1032.4,245.5L1032.5,244.5M1033.7,232.6L1034.0,229.5L1034.3,226.4L1034.5,223.4L1034.7,220.3L1034.9,216.8L1035.1,213.5L1035.3,210.2L1035.4,209.3M1036.9,197.7L1037.4,194.5L1038.0,191.3L1038.5,188.0L1039.0,184.6L1039.5,181.4L1040.0,178.1L1040.5,174.9M1043.0,163.6L1044.0,160.4L1045.0,157.2L1046.0,154.0L1047.0,150.9L1048.0,147.8L1049.2,144.6L1050.2,141.9M1056.5,132.9L1059.3,131.0L1062.1,129.3L1065.1,127.8L1068.2,126.5L1071.2,125.3L1074.3,124.1L1075.2,123.7M1085.5,123.6L1088.7,124.6L1091.8,125.6L1095.1,126.5L1098.2,127.4L1101.3,128.5L1104.3,129.5L1105.1,129.9M1114.6,135.0L1117.3,136.9L1119.8,139.0L1122.1,141.2L1124.3,143.4L1126.8,145.5L1129.5,147.5L1130.5,148.5M1134.4,159.5L1135.4,162.7L1136.7,165.7L1138.3,168.6L1139.9,171.4L1141.4,174.3L1143.1,177.2L1144.3,179.2M1148.1,190.2L1148.5,193.6L1149.0,197.0L1149.6,200.2L1150.3,203.4L1151.0,206.7L1151.6,210.0L1152.2,212.9M1154.3,224.8L1154.8,228.1L1155.2,231.3L1155.5,234.4L1155.8,237.4L1156.2,240.7L1156.5,243.7L1156.8,246.8L1156.9,247.7M1157.9,259.5L1158.2,262.6L1158.4,265.8L1158.7,269.0L1158.9,272.3L1159.2,275.6L1159.4,278.9L1159.7,282.2M1160.6,294.4L1160.9,297.6L1161.1,300.9L1161.3,304.1L1161.6,307.3L1161.8,310.4L1162.0,313.5L1162.3,316.8L1162.3,317.3M1163.2,329.3L1163.4,332.7L1163.6,336.0L1163.9,339.4L1164.1,342.8L1164.3,346.2L1164.5,349.6L1164.7,352.0M1165.4,364.2L1165.7,367.7L1165.9,371.1L1166.1,374.6L1166.2,377.6L1166.4,380.7L1166.6,383.7L1166.8,386.8L1166.8,387.3M1167.4,399.2L1167.6,402.3L1167.8,405.5L1167.9,408.8L1168.1,412.0L1168.3,415.2L1168.4,418.4L1168.6,421.6L1168.6,422.1M1169.2,434.1L1169.3,437.3L1169.5,440.6L1169.6,443.8L1169.7,447.1L1169.9,450.4L1170.0,453.7L1170.2,457.0M1170.6,469.1L1170.8,472.5L1170.9,476.0L1171.1,479.5L1171.2,482.5L1171.3,485.6L1171.4,488.6L1171.5,491.7M1172.0,503.8L1172.1,507.0L1172.2,510.3L1172.4,513.6L1172.5,516.9L1172.6,520.3L1172.8,523.7L1172.9,527.1M1173.3,538.8L1173.4,542.1L1173.6,545.5L1173.7,548.6L1173.8,551.7L1173.9,554.8L1174.0,558.1L1174.1,561.4L1174.1,561.9M1174.4,574.0L1174.5,577.6L1174.6,580.7L1174.7,583.7L1174.8,586.8L1174.9,589.9L1175.0,593.1L1175.1,596.2L1175.1,596.9M1175.4,609.1L1175.5,612.4L1175.6,615.7L1175.7,619.0L1175.8,622.3L1175.9,625.6L1175.9,629.0L1176.0,631.6M1176.3,643.7L1176.4,647.0L1176.5,650.4L1176.6,653.7L1176.7,657.0L1176.8,660.3L1176.9,663.6L1177.0,666.9M1177.3,678.7L1177.4,681.9L1177.5,685.1L1177.6,688.2L1177.7,691.4L1177.8,694.5L1177.8,697.6L1177.9,700.6L1178.0,701.8M1178.3,713.6L1178.4,717.1L1178.6,720.4L1178.7,723.7L1178.8,726.9L1178.9,730.1L1179.0,733.1L1179.1,736.6M1179.6,748.6L1179.7,751.9L1179.9,755.1L1180.0,758.4L1180.2,761.5L1180.4,764.6L1180.6,767.7L1180.8,770.8L1180.9,771.8M1182.6,770.4L1182.8,767.2L1183.0,764.0L1183.2,760.8L1183.3,757.7L1183.4,754.3L1183.6,751.1L1183.7,747.7L1183.7,747.3M1184.1,735.1L1184.2,732.1L1184.3,729.0L1184.4,725.9L1184.5,722.6L1184.6,719.3L1184.7,715.9L1184.8,712.5M1185.1,700.0L1185.2,697.0L1185.2,693.9L1185.3,690.8L1185.4,687.6L1185.5,684.4L1185.5,681.2L1185.6,678.0L1185.6,677.4M1185.9,665.0L1186.0,661.7L1186.1,658.3L1186.2,655.0L1186.2,651.7L1186.3,648.4L1186.4,645.0L1186.4,642.3M1186.7,630.3L1186.8,627.0L1186.9,623.6L1187.0,620.3L1187.0,617.0L1187.1,613.7L1187.2,610.5L1187.3,607.2M1187.6,595.0L1187.6,591.8L1187.7,588.7L1187.8,585.6L1187.9,582.5L1188.0,579.4L1188.0,576.4L1188.1,572.9L1188.1,572.3M1188.5,560.3L1188.6,557.0L1188.7,553.8L1188.8,550.6L1188.9,547.5L1189.0,544.0L1189.1,540.7L1189.2,537.4M1189.7,525.4L1189.8,522.0L1190.0,518.6L1190.1,515.3L1190.3,511.9L1190.4,508.7L1190.5,505.4L1190.7,502.2M1191.2,490.2L1191.4,487.1L1191.5,484.0L1191.7,481.0L1191.8,478.0L1192.0,474.5L1192.1,471.1L1192.3,467.6M1192.9,455.6L1193.1,452.3L1193.3,449.0L1193.4,445.7L1193.6,442.4L1193.8,439.2L1194.0,435.9L1194.1,432.7M1194.8,420.7L1195.0,417.5L1195.1,414.3L1195.3,411.1L1195.5,407.8L1195.7,404.4L1195.9,401.2L1196.0,398.1L1196.1,397.5M1196.8,385.4L1196.9,382.2L1197.1,379.1L1197.3,376.0L1197.5,372.9L1197.7,369.8L1197.9,366.7L1198.0,363.6L1198.1,362.6M1198.9,350.5L1199.1,347.1L1199.3,343.7L1199.5,340.3L1199.7,336.9L1199.9,333.6L1200.2,330.4L1200.4,327.6M1201.2,316.0L1201.4,313.0L1201.6,309.7L1201.9,306.3L1202.1,303.1L1202.4,299.8L1202.6,296.6L1202.9,293.5L1202.9,293.0M1203.9,280.9L1204.2,277.5L1204.5,274.3L1204.8,271.1L1205.1,268.0L1205.4,264.9L1205.8,261.6L1206.2,258.3M1208.0,246.0L1208.5,242.8L1209.0,239.7L1209.5,236.7L1210.1,233.4L1210.6,230.5L1211.2,227.2L1211.8,224.1L1211.9,223.7M1214.6,212.1L1215.4,209.0L1216.2,205.8L1216.9,202.7L1217.8,199.5L1218.7,196.4L1219.7,193.2L1220.8,190.1M1225.8,179.7L1227.3,176.7L1228.6,173.7L1229.9,170.7L1231.4,167.7L1233.0,164.8L1234.7,161.9L1236.0,159.9M1243.3,151.3L1245.8,149.2L1248.5,147.3L1251.3,145.6L1253.9,144.1L1256.6,142.4L1259.3,140.9L1261.0,140.2M1271.5,138.2L1274.9,137.7L1278.2,137.3L1281.4,136.9L1284.6,136.3L1287.6,135.8L1290.7,135.9L1291.2,136.0M1301.7,138.1L1304.8,138.9L1307.9,139.7L1311.1,140.5L1314.2,141.4L1317.3,142.3L1320.5,143.5L1321.4,143.8M1331.1,148.1L1334.0,149.5L1336.9,150.7L1339.9,152.0L1342.7,153.7L1345.1,155.7L1347.5,157.9L1348.5,159.0M1355.7,167.8L1357.6,170.6L1359.5,173.5L1361.2,176.4L1362.8,179.2L1364.3,182.0L1365.7,184.9L1366.7,187.1M1371.0,198.0L1372.1,201.1L1373.2,204.4L1374.1,207.3L1375.0,210.2L1375.9,213.2L1376.7,216.1L1377.5,219.1L1377.6,219.6M1380.2,231.1L1380.8,234.5L1381.4,237.9L1381.9,241.4L1382.4,244.8L1382.9,248.2L1383.4,251.7L1383.7,254.1M1385.3,265.9L1385.7,269.0L1386.1,272.0L1386.4,275.0L1386.8,278.0L1387.2,281.5L1387.6,284.9L1388.0,288.2L1388.0,288.6M1389.6,300.4L1390.1,303.7L1390.6,306.8L1391.0,310.0L1391.4,313.4L1391.7,316.4L1392.0,319.5L1392.3,322.7L1392.3,323.1M1393.1,335.1L1393.3,338.1L1393.5,341.1L1393.7,344.2L1393.8,347.4L1394.0,350.4L1394.2,353.6L1394.4,356.8L1394.5,358.2M1395.2,370.0L1395.4,373.4L1395.6,376.9L1395.8,379.9L1396.0,382.9L1396.2,386.0L1396.3,389.1L1396.5,392.2L1396.5,393.2M1397.2,405.1L1397.3,408.3L1397.5,411.5L1397.7,414.8L1397.8,418.1L1398.0,421.4L1398.1,424.7L1398.3,428.1M1398.8,439.9L1399.0,442.9L1399.1,446.0L1399.2,449.1L1399.3,452.2L1399.5,455.4L1399.6,458.6L1399.7,461.9L1399.7,463.0M1400.1,474.9L1400.2,478.1L1400.3,481.3L1400.3,484.6L1400.4,487.9L1400.5,491.3L1400.5,494.7L1400.6,498.1M1400.7,510.1L1400.8,513.1L1400.8,516.2L1400.9,519.3L1400.9,522.3L1401.0,525.4L1401.0,528.5L1401.1,531.6L1401.1,533.2M1401.3,545.0L1401.4,548.1L1401.4,551.2L1401.5,554.3L1401.6,557.4L1401.7,560.5L1401.8,563.5L1401.9,566.6L1402.0,568.1M1402.5,580.0L1402.7,583.1L1402.8,586.3L1403.0,589.7L1403.2,593.2L1403.4,596.8L1403.5,599.9L1403.7,603.0M1404.4,615.2L1404.6,618.5L1404.8,621.8L1405.0,625.1L1405.2,628.4L1405.4,631.7L1405.6,635.0L1405.8,637.6M1406.6,650.2L1406.9,653.2L1407.1,656.7L1407.4,660.1L1407.6,663.3L1407.9,666.4L1408.2,669.9L1408.5,672.6M1410.0,684.5L1410.8,687.4L1412.0,684.6L1412.5,681.4L1412.8,678.3L1413.1,675.2L1413.4,672.1L1413.7,668.8L1413.7,668.3M1414.6,656.4L1414.8,652.8L1415.0,649.8L1415.2,646.7L1415.4,643.5L1415.6,640.3L1415.8,637.1L1415.9,633.8L1416.0,633.2M1416.6,621.3L1416.8,618.0L1416.9,614.7L1417.1,611.5L1417.2,608.2L1417.4,605.1L1417.5,602.0L1417.7,598.9L1417.7,598.3M1418.2,586.4L1418.4,583.4L1418.5,580.0L1418.6,576.8L1418.7,573.6L1418.8,570.4L1418.9,567.2L1419.0,564.0L1419.0,563.5M1419.3,551.6L1419.3,548.4L1419.4,545.2L1419.4,542.0L1419.4,538.9L1419.4,535.8L1419.5,532.7L1419.5,529.6L1419.5,528.6M1419.5,516.5L1419.5,513.2L1419.5,510.1L1419.5,507.0L1419.6,503.7L1419.6,500.4L1419.6,497.4L1419.6,494.1L1419.6,493.5M1419.5,481.7L1419.5,478.6L1419.5,475.5L1419.5,472.3L1419.6,469.0L1419.8,465.6L1420.0,462.4L1420.2,459.2L1420.3,458.7M1421.5,446.4L1421.9,443.0L1422.2,440.0L1422.5,436.9L1422.8,433.8L1423.1,430.5L1423.3,427.4L1423.5,424.2L1423.5,423.7M1424.2,411.6L1424.4,408.6L1424.5,405.6L1424.7,402.5L1424.8,399.4L1425.0,396.3L1425.1,393.3L1425.3,390.2L1425.4,388.7M1426.1,376.7L1426.3,373.3L1426.5,370.0L1426.7,366.9L1427.0,363.8L1427.2,360.7L1427.5,357.6L1427.7,354.5L1427.7,354.0M1428.8,342.0L1429.1,338.6L1429.4,335.3L1429.7,332.0L1430.0,328.8L1430.3,325.6L1430.6,322.5L1430.9,319.3M1431.9,307.2L1432.2,303.9L1432.6,300.6L1432.9,297.3L1433.3,294.0L1433.8,290.6L1434.3,287.3L1434.7,284.4M1436.7,272.8L1437.3,269.4L1437.9,266.0L1438.6,262.6L1439.2,259.2L1439.9,255.9L1440.5,252.9L1441.1,249.9M1443.5,238.3L1444.1,235.4L1444.9,232.0L1445.6,228.8L1446.4,225.8L1447.2,222.4L1448.1,219.3L1449.0,216.4M1452.8,205.1L1454.0,201.9L1455.2,198.8L1456.4,195.8L1457.8,192.7L1459.2,189.7L1460.8,186.7L1462.0,184.6M1468.1,174.9L1470.1,172.2L1472.1,169.6L1474.2,167.0L1476.3,164.5L1478.5,161.9L1480.7,159.4L1482.0,158.0M1490.0,150.6L1492.6,148.5L1495.4,146.6L1498.1,144.6L1501.0,142.7L1503.9,140.8L1506.8,139.1L1507.2,138.8M1517.3,135.6L1520.5,134.9L1523.6,134.0L1526.8,133.0L1530.0,132.2L1533.3,131.5L1536.6,130.8L1537.1,130.7M1547.6,130.0L1550.7,130.5L1553.8,131.4L1557.0,132.4L1560.2,133.4L1563.4,134.3L1566.6,135.3L1567.0,135.4M1576.4,140.9L1579.6,142.3L1582.4,143.5L1585.3,144.7L1588.2,146.4L1590.6,148.8L1592.6,151.5L1593.4,152.7M1599.9,162.2L1601.8,165.0L1603.5,167.8L1605.3,170.7L1606.9,173.6L1608.4,176.5L1609.9,179.5L1610.7,181.2M1615.7,192.1L1617.1,195.2L1618.4,198.4L1619.7,201.5L1621.0,204.6L1622.2,207.7L1623.5,210.9L1624.2,212.6M1628.1,223.7L1629.1,226.7L1630.1,229.8L1631.1,233.1L1631.9,236.2L1632.8,239.5L1633.5,242.6L1634.3,245.9M1636.8,257.2L1637.5,260.2L1638.1,263.2L1638.7,266.2L1639.3,269.2L1640.0,272.6L1640.6,275.9L1641.2,279.4L1641.3,279.9M1643.4,291.7L1643.9,295.1L1644.5,298.5L1645.1,301.8L1645.7,305.1L1646.2,308.1L1646.9,311.4L1647.4,314.3M1649.6,326.0L1650.2,329.4L1650.7,332.8L1651.2,336.2L1651.6,339.5L1652.0,342.8L1652.3,346.1L1652.6,348.5M1653.7,360.8L1654.0,363.9L1654.2,366.9L1654.5,370.0L1654.8,373.3L1655.1,376.6L1655.3,379.9L1655.6,383.3M1656.4,395.5L1656.7,398.5L1656.9,401.5L1657.1,404.5L1657.4,407.6L1657.6,410.7L1657.9,413.8L1658.2,417.1L1658.4,418.5M1659.7,430.3L1660.1,433.5L1660.5,436.8L1660.9,440.0L1661.3,443.4L1661.7,446.7L1662.1,450.2L1662.4,453.2M1663.6,464.9L1663.9,468.3L1664.1,471.6L1664.4,474.9L1664.6,478.3L1664.8,481.4L1665.0,484.5L1665.2,487.6L1665.3,488.1M1666.0,499.8L1666.2,503.2L1666.3,506.6L1666.5,510.1L1666.7,513.1L1666.8,516.1L1667.0,519.2L1667.1,522.2L1667.2,522.7M1667.7,534.6L1667.9,537.8L1668.0,540.9L1668.1,544.1L1668.3,547.2L1668.4,550.4L1668.6,553.6L1668.7,556.7L1668.7,557.8M1669.3,569.9L1669.4,573.0L1669.5,576.2L1669.7,579.3L1669.8,582.4L1669.9,585.5L1670.1,588.9L1670.2,592.3L1670.3,592.8M1670.8,604.7L1670.9,607.8L1671.0,610.8L1671.1,613.9L1671.3,617.0L1671.4,620.0L1671.5,623.1L1671.6,626.2L1671.7,627.8M1672.2,639.8L1672.3,642.9L1672.4,646.0L1672.5,649.2L1672.6,652.3L1672.8,655.4L1672.9,658.5L1673.0,661.6L1673.0,662.6M1673.5,674.9L1673.6,677.9L1673.7,680.9L1673.8,684.4L1673.9,687.8L1674.0,691.2L1674.2,694.6L1674.3,697.5M1674.7,709.5L1674.8,712.6L1674.9,715.7L1675.0,718.7L1675.1,722.2L1675.2,725.5L1675.3,728.8L1675.3,732.0L1675.4,732.5M1675.6,744.6L1675.7,748.0L1675.8,751.4L1675.8,754.7L1675.9,758.0L1675.9,761.3L1676.0,764.6L1676.1,767.4M1676.4,779.7L1676.5,783.1L1676.7,786.5L1676.8,790.0L1677.0,793.0L1677.1,796.5L1677.3,799.6L1677.4,802.3M1678.0,814.3L1678.1,817.5L1678.3,820.7L1678.5,824.0L1678.6,827.2L1678.8,830.5L1679.0,833.8L1679.2,837.1M1679.9,849.8L1680.1,852.8L1680.3,856.3L1680.5,859.7L1680.8,862.8L1681.0,866.3L1681.3,869.4L1681.6,872.6M1684.0,876.1L1684.3,872.9L1684.7,869.8L1684.9,866.7L1685.2,863.3L1685.4,860.2L1685.6,856.9L1685.9,853.4M1686.6,841.0L1686.8,837.8L1687.0,834.5L1687.2,831.2L1687.3,827.9L1687.5,824.6L1687.7,821.4L1687.8,818.1M1688.4,806.4L1688.6,802.9L1688.7,799.6L1688.9,796.5L1689.0,793.0L1689.2,790.0L1689.3,786.5L1689.5,783.5M1689.8,771.6L1689.9,768.3L1690.0,765.0L1690.1,761.8L1690.2,758.5L1690.2,755.2L1690.3,751.8L1690.4,748.5M1690.6,736.6L1690.7,733.5L1690.7,730.4L1690.8,727.2L1690.9,723.9L1691.0,720.6L1691.1,717.4L1691.2,714.4L1691.2,713.5M1691.5,701.2L1691.6,697.9L1691.7,694.6L1691.8,691.2L1691.9,687.8L1692.0,684.4L1692.1,680.9L1692.2,678.4M1692.5,666.2L1692.6,663.1L1692.7,660.0L1692.8,656.9L1692.9,653.8L1693.0,650.7L1693.1,647.6L1693.2,644.5L1693.2,643.4M1693.6,631.4L1693.7,628.3L1693.8,625.2L1693.9,622.1L1694.0,619.0L1694.1,615.9L1694.2,612.9L1694.3,609.8L1694.3,608.3M1694.7,596.3L1694.8,592.8L1694.9,589.4L1695.0,586.0L1695.1,582.9L1695.2,579.8L1695.3,576.7L1695.5,573.5M1695.9,561.5L1696.0,558.3L1696.1,555.1L1696.2,552.0L1696.3,548.8L1696.4,545.7L1696.5,542.5L1696.6,539.4L1696.7,538.3M1697.1,526.3L1697.2,523.3L1697.3,520.2L1697.4,517.1L1697.5,514.1L1697.6,511.1L1697.8,507.6L1697.9,504.2L1697.9,503.7M1698.4,491.3L1698.6,488.1L1698.7,484.9L1698.8,481.8L1699.0,478.8L1699.1,475.4L1699.3,472.0L1699.5,468.8M1700.1,456.7L1700.3,453.6L1700.5,450.5L1700.7,447.0L1700.9,443.6L1701.1,440.3L1701.4,437.0L1701.6,433.7M1702.4,421.7L1702.6,418.5L1702.8,415.3L1703.0,412.2L1703.1,409.1L1703.3,406.1L1703.5,403.0L1703.7,400.0L1703.8,399.0M1704.5,386.6L1704.7,383.2L1704.9,379.8L1705.1,376.5L1705.3,373.2L1705.5,370.0L1705.7,366.9L1705.9,363.8M1706.5,352.0L1706.7,348.6L1707.0,345.3L1707.2,342.0L1707.5,338.7L1707.7,335.4L1708.0,332.4L1708.4,329.0M1709.8,317.2L1710.3,313.8L1710.7,310.4L1711.1,307.0L1711.5,303.7L1711.9,300.3L1712.3,297.0L1712.6,294.5M1714.1,282.2L1714.5,278.7L1714.9,275.3L1715.4,271.8L1715.8,268.8L1716.2,265.8L1716.6,262.7L1717.0,259.7M1718.7,247.7L1719.2,244.4L1719.7,241.2L1720.2,238.2L1720.7,235.1L1721.3,231.7L1721.8,228.4L1722.4,225.3M1725.0,213.4L1725.8,210.1L1726.7,206.9L1727.6,203.7L1728.7,200.5L1729.8,197.3L1731.0,194.1L1731.9,191.8M1737.0,181.2L1738.7,178.2L1740.6,175.5L1742.4,173.0L1744.7,170.5L1747.2,168.4L1749.6,166.3L1751.0,165.1M1759.2,158.3L1762.4,157.2L1765.6,156.6L1768.9,156.2L1772.2,156.1L1775.5,156.3L1778.5,156.6L1779.3,156.7M1789.8,158.8L1793.2,159.5L1796.4,160.0L1799.5,160.5L1802.7,161.0L1805.9,161.9L1808.7,162.9L1809.6,163.3M1819.5,167.9L1822.3,169.2L1825.1,170.4L1828.1,171.8L1831.1,173.2L1834.3,174.6L1837.4,176.1L1837.9,176.3M1848.0,180.6L1851.2,181.9L1854.3,183.1L1857.5,184.4L1860.7,185.6L1864.0,186.8L1866.7,187.7M1877.3,191.1L1880.6,192.1L1884.0,193.0L1887.3,193.9L1890.6,194.7L1893.9,195.5L1896.8,196.1M1907.2,197.3L1910.6,197.3L1914.0,197.3L1917.3,197.1L1920.7,196.8L1924.1,196.4L1927.4,196.0M1937.8,193.9L1941.1,193.1L1944.4,192.1L1947.7,191.2L1951.0,190.1L1954.3,189.1L1957.1,188.2M1967.5,184.4L1970.3,183.3L1973.6,182.1L1976.7,180.9L1979.8,179.9L1982.8,179.0L1985.8,178.2L1986.7,178.0M1997.2,175.9L1999.0,175.5" fill="none" stroke="#ff0000" stroke-width="9" stroke-linejoin="round"/>
</g>
<!-- axes (over series) -->
<rect x="255" y="38" width="3" height="1063" fill="#000"/>
<rect x="255" y="1098" width="1746" height="3" fill="#0a0a0a"/>
<!-- legend -->
<line x1="378" y1="940" x2="531" y2="940" stroke="#0000ff" stroke-width="9.5"/>
<line x1="908.5" y1="940" x2="1063" y2="940" stroke="#ff0000" stroke-width="9.5" stroke-dasharray="27 8"/>
<text x="543.5" y="961" font-size="68.5" textLength="286.7" lengthAdjust="spacingAndGlyphs">Simulated</text>
<text x="1075.4" y="961" font-size="68.5" textLength="278.9" lengthAdjust="spacingAndGlyphs">Measured</text>
<!-- y tick labels -->
<g font-size="72" text-anchor="end">
<text x="200" y="62.5">0</text>
<text x="200" y="330">-5</text>
<text x="200" y="593">-10</text>
<text x="200" y="855">-15</text>
<text x="200" y="1121">-20</text>
</g>
<!-- x tick labels -->
<g font-size="72" text-anchor="middle">
<text x="259.4" y="1202">4</text>
<text x="431.3" y="1202">4.5</text>
<text x="607.5" y="1202">5</text>
<text x="781.5" y="1202">5.5</text>
<text x="955.6" y="1202">6</text>
<text x="1128.8" y="1202">6.5</text>
<text x="1304.7" y="1202">7</text>
<text x="1477.6" y="1202">7.5</text>
<text x="1651.8" y="1202">8</text>
<text x="1826.5" y="1202">8.5</text>
<text x="2000.6" y="1202">9</text>
</g>
<!-- axis titles -->
<text x="884.8" y="1302.5" font-size="74" textLength="281.5" lengthAdjust="spacingAndGlyphs">Frequency</text>
<text x="1202.5" y="1302.5" font-size="74" textLength="167.7" lengthAdjust="spacingAndGlyphs">(GHz)</text>
<g transform="translate(76,0) rotate(-90)">
<text font-size="72"><tspan x="-692.8" font-size="75">S</tspan><tspan x="-654.9" font-size="64">2</tspan><tspan x="-628.2" font-size="64">1 </tspan><tspan x="-579.4" textLength="127.6" lengthAdjust="spacingAndGlyphs">(dB)</tspan></text>
</g>
</svg>
</body></html>
